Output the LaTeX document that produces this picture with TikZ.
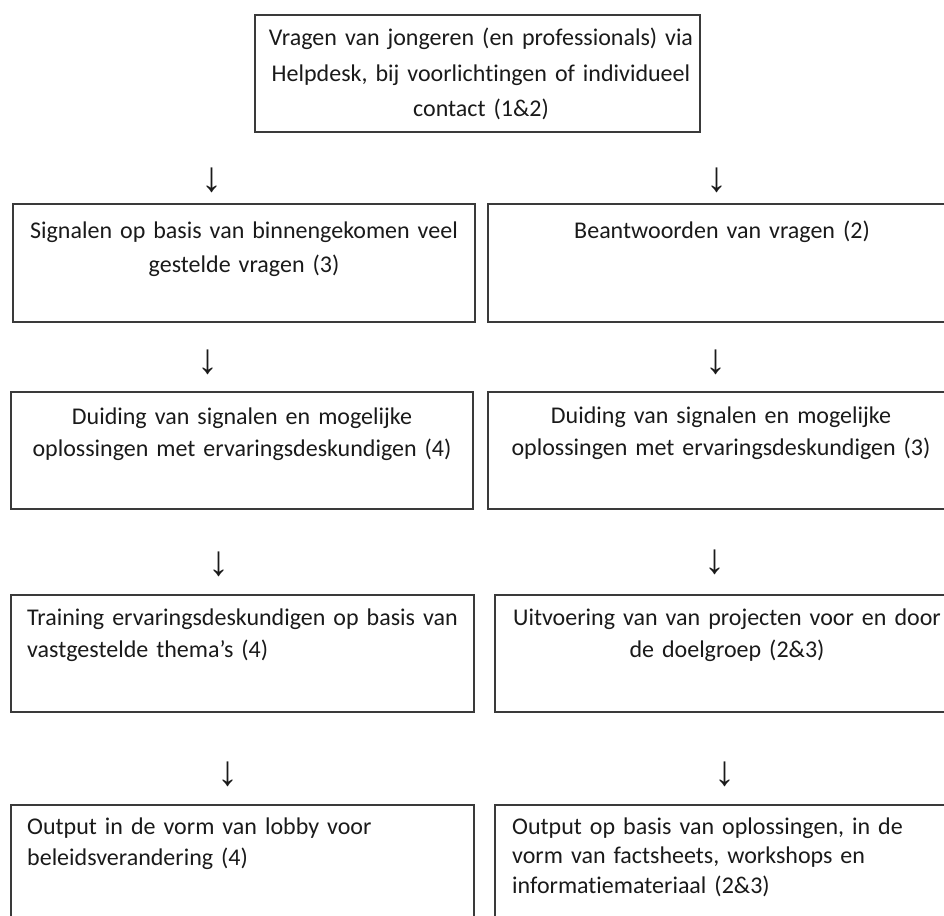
\documentclass[tikz,border=0pt]{standalone}
\usepackage{fontspec}
\setmainfont[Ligatures=NoCommon]{Carlito}
\newfontfamily\arrowfont{Liberation Sans}
\definecolor{boxline}{HTML}{3A3A3A}
\definecolor{txt}{HTML}{1A1A1A}
\tikzset{
  flowbox/.style={draw=boxline, line width=1.3pt},
  ctext/.style={inner sep=0pt, text width=440pt, align=center, anchor=base, text=txt, font=\fontsize{24}{32}\selectfont},
  ltext/.style={inner sep=0pt, text width=440pt, align=left, anchor=base west, text=txt, font=\fontsize{24}{31}\selectfont},
  darrow/.style={inner sep=0pt, text=txt, font=\arrowfont\fontsize{42}{42}\selectfont}
}
\begin{document}
\begin{tikzpicture}[x=1pt,y=-1pt]
\useasboundingbox (0,0) rectangle (944,915);
\clip (0,0) rectangle (944,915);
% boxes
\draw[flowbox] (255,15) rectangle (700,132);
\draw[flowbox] (13,204) rectangle (475,322);
\draw[flowbox] (488,204) rectangle (960,322);
\draw[flowbox] (11,392) rectangle (473,509);
\draw[flowbox] (488,392) rectangle (960,509);
\draw[flowbox] (11,595) rectangle (474,712);
\draw[flowbox] (495,595) rectangle (960,712);
\draw[flowbox] (11,805) rectangle (474,930);
\draw[flowbox] (495,805) rectangle (960,930);
% texts
\node[ctext, font=\fontsize{24}{35.3}\selectfont] (t0) at (481,46) {Vragen van jongeren (en professionals) via\\Helpdesk, bij voorlichtingen of individueel\\contact (1\&2)};
\node[ctext, font=\fontsize{24}{34}\selectfont] (l1) at (244,238) {Signalen op basis van binnengekomen veel\\gestelde vragen (3)};
\node[ctext] (r1) at (722,238) {Beantwoorden van vragen (2)};
\node[ctext] (l2) at (242,424) {Duiding van signalen en mogelijke\\oplossingen met ervaringsdeskundigen (4)};
\node[ctext] (r2) at (721,423) {Duiding van signalen en mogelijke\\oplossingen met ervaringsdeskundigen (3)};
\node[ltext, font=\fontsize{24}{32}\selectfont] (l3) at (27,625) {Training ervaringsdeskundigen op basis van\\vastgestelde thema’s (4)};
\node[ctext] (r3) at (727,625) {Uitvoering van van projecten voor en door\\de doelgroep (2\&3)};
\node[ltext] (l4) at (27,834) {Output in de vorm van lobby voor\\beleidsverandering (4)};
\node[ltext, font=\fontsize{24}{29.5}\selectfont] (r4) at (512,834) {Output op basis van oplossingen, in de\\vorm van factsheets, workshops en\\informatiemateriaal (2\&3)};
% arrows
\node[darrow] (a1l) at (212,180) {↓};
\node[darrow] (a1r) at (717,180) {↓};
\node[darrow] (a2l) at (208,362) {↓};
\node[darrow] (a2r) at (716,362) {↓};
\node[darrow] (a3l) at (219,564) {↓};
\node[darrow] (a3r) at (715,562) {↓};
\node[darrow] (a4l) at (228,774) {↓};
\node[darrow] (a4r) at (725,774) {↓};
\end{tikzpicture}
\end{document}
